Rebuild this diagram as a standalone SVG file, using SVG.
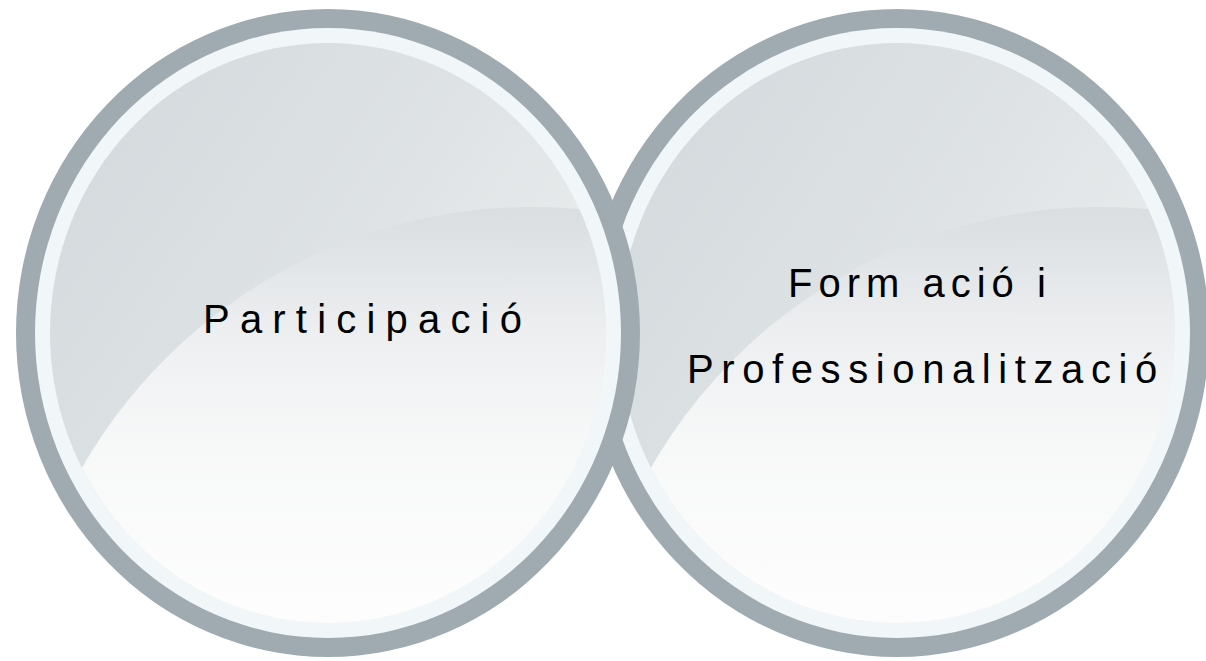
<svg xmlns="http://www.w3.org/2000/svg" width="1206" height="661" viewBox="0 0 1206 661">
<style>
.rim{fill:#a0abb1}
.hl{fill:#f1f6f8}
.gloss{fill:url(#gGloss)}
.lbl{font-family:"Liberation Sans",Arial,sans-serif;font-size:40px;fill:#000000}
</style>
<defs>
<linearGradient id="gTop" gradientUnits="userSpaceOnUse" x1="60" y1="60" x2="560" y2="400">
<stop offset="0" stop-color="#d2d9dc"/>
<stop offset="0.6" stop-color="#dfe3e5"/>
<stop offset="1" stop-color="#ebeeef"/>
</linearGradient>
<linearGradient id="gTopR" gradientUnits="userSpaceOnUse" x1="629" y1="60" x2="1129" y2="400">
<stop offset="0" stop-color="#d2d9dc"/>
<stop offset="0.6" stop-color="#dfe3e5"/>
<stop offset="1" stop-color="#ebeeef"/>
</linearGradient>
<linearGradient id="gGloss" gradientUnits="userSpaceOnUse" x1="0" y1="210" x2="0" y2="600">
<stop offset="0" stop-color="#dadee0"/>
<stop offset="0.3" stop-color="#eceef0"/>
<stop offset="0.6" stop-color="#f7f8f8"/>
<stop offset="1" stop-color="#fdfdfd"/>
</linearGradient>
<clipPath id="cL"><ellipse cx="328" cy="333" rx="278" ry="290"/></clipPath>
<clipPath id="cR"><ellipse cx="897" cy="333" rx="278" ry="290"/></clipPath>
</defs>
<g id="node-formacio">
<ellipse class="rim" cx="897" cy="333" rx="312" ry="324"/>
<ellipse class="hl" cx="897" cy="333" rx="293" ry="305"/>
<g clip-path="url(#cR)">
<rect fill="url(#gTopR)" x="600" y="30" width="600" height="610"/>
<circle class="gloss" cx="1101" cy="726" r="519"/>
</g>
<text class="lbl" x="788" y="297" letter-spacing="6">Form ació i</text>
<text class="lbl" x="687" y="383" letter-spacing="7.6">Professionalització</text>
</g>
<g id="node-participacio">
<ellipse class="rim" cx="328" cy="333" rx="312" ry="324"/>
<ellipse class="hl" cx="328" cy="333" rx="293" ry="305"/>
<g clip-path="url(#cL)">
<rect fill="url(#gTop)" x="40" y="30" width="600" height="610"/>
<circle class="gloss" cx="532" cy="726" r="519"/>
</g>
<text class="lbl" x="203" y="333" letter-spacing="10.2">Participació</text>
</g>
<g id="connectors"/>
</svg>
